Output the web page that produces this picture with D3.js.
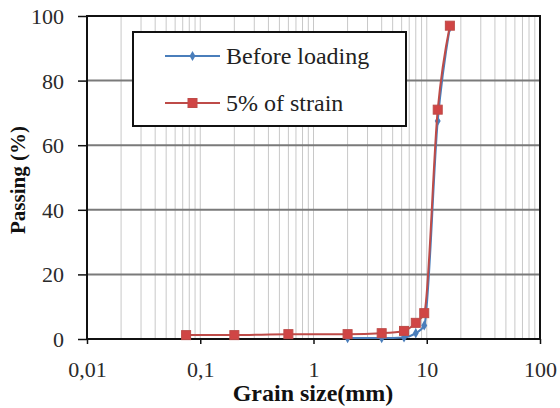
<!DOCTYPE html>
<html>
<head>
<meta charset="utf-8">
<script src="https://cdn.jsdelivr.net/npm/d3@7"></script>
<style>
body { margin: 0; background: #fff; }
</style>
</head>
<body>
<svg id="chart" width="560" height="408"></svg>
<script>
// sieve sizes (mm) and passing (%)
var sizesBefore = [2, 4, 6.3, 8, 9.5, 12.5, 16];
var passBefore = [0.3, 0.3, 0.5, 1.8, 4.2, 67.5, 96.5];
var sizesStrain = [0.075, 0.2, 0.6, 2, 4, 6.3, 8, 9.5, 12.5, 16];
var passStrain = [1.2, 1.2, 1.5, 1.5, 1.8, 2.5, 5, 8, 71, 97];
var xTicks = [0.01, 0.1, 1, 10, 100];
var xTickLabels = ["0,01", "0,1", "1", "10", "100"];
var yTicks = [0, 20, 40, 60, 80, 100];
var seriesNames = ["Before loading", "5% of strain"];

var serif = "'Liberation Serif'";
var svg = d3.select("#chart");
var plotL = 87, plotR = 540, plotT = 16, plotB = 339;

var x = d3.scaleLog().domain([0.01, 100]).range([plotL, plotR]);
var y = d3.scaleLinear().domain([0, 100]).range([plotB, plotT]);

// minor vertical grid
var minor = [];
for (var d = 0.01; d < 99; d *= 10) {
	for (var k = 1; k <= 9; k++) minor.push(d * k);
}
svg.append("g").selectAll("line").data(minor).enter().append("line")
	.attr("x1", function (v) { return x(v); }).attr("x2", function (v) { return x(v); })
	.attr("y1", plotT).attr("y2", plotB)
	.attr("stroke", "#c8c8c8").attr("stroke-width", 1);

// horizontal grid
svg.append("g").selectAll("line").data(yTicks.slice(1, 5)).enter().append("line")
	.attr("x1", plotL).attr("x2", plotR)
	.attr("y1", function (v) { return y(v); }).attr("y2", function (v) { return y(v); })
	.attr("stroke", "#7a7a7a").attr("stroke-width", 2);

// frame
svg.append("rect").attr("x", plotL).attr("y", plotT)
	.attr("width", plotR - plotL).attr("height", plotB - plotT)
	.attr("fill", "none").attr("stroke", "#111").attr("stroke-width", 2);

// axes
var yAxis = d3.axisLeft(y).tickValues(yTicks).tickSize(9).tickPadding(14);
var gy = svg.append("g").attr("transform", "translate(" + plotL + ",0)").call(yAxis);
gy.select(".domain").remove();
gy.attr("font-family", serif);
gy.selectAll("line").attr("stroke", "#111").attr("stroke-width", 1.5);
gy.selectAll("text").attr("font-family", serif).attr("font-size", 22)
	.attr("fill", "#2a2a2a").attr("dy", "0.34em");

var xAxis = d3.axisBottom(x).tickValues(xTicks)
	.tickFormat(function (v, i) { return xTickLabels[i]; }).tickSize(5);
var gx = svg.append("g").attr("transform", "translate(0," + plotB + ")").call(xAxis);
gx.select(".domain").remove();
gx.attr("font-family", serif);
gx.selectAll("line").attr("stroke", "#111").attr("stroke-width", 1.5);
gx.selectAll("text").attr("font-family", serif).attr("font-size", 22).attr("fill", "#2a2a2a")
	.attr("y", 38).attr("dy", null);

// axis titles
svg.append("text").attr("x", 313).attr("y", 401).attr("text-anchor", "middle")
	.attr("font-family", serif).attr("font-size", 24).attr("font-weight", "bold")
	.attr("fill", "#111").text("Grain size(mm)");
svg.append("text").attr("transform", "translate(25,180) rotate(-90)")
	.attr("text-anchor", "middle").attr("font-family", serif).attr("font-size", 21)
	.attr("font-weight", "bold").attr("fill", "#111").text("Passing (%)");

var line = d3.line()
	.x(function (d) { return x(d[0]); })
	.y(function (d) { return y(d[1]); })
	.curve(d3.curveMonotoneX);

var blueData = sizesBefore.map(function (s, i) { return [s, passBefore[i]]; });
var redData = sizesStrain.map(function (s, i) { return [s, passStrain[i]]; });
var blue = "#4a7ebb", red = "#be4b48";

svg.append("path").datum(blueData).attr("d", line)
	.attr("fill", "none").attr("stroke", blue).attr("stroke-width", 2);
svg.append("g").selectAll("path").data(blueData).enter().append("path")
	.attr("d", d3.symbol().type(d3.symbolDiamond).size(30))
	.attr("transform", function (d) { return "translate(" + x(d[0]) + "," + y(d[1]) + ")"; })
	.attr("fill", blue);

svg.append("path").datum(redData).attr("d", line)
	.attr("fill", "none").attr("stroke", red).attr("stroke-width", 2);
svg.append("g").selectAll("rect").data(redData).enter().append("rect")
	.attr("x", function (d) { return x(d[0]) - 4.5; })
	.attr("y", function (d) { return y(d[1]) - 4.5; })
	.attr("width", 9).attr("height", 9)
	.attr("fill", "#d04545").attr("stroke", red);

// legend
var lg = svg.append("g");
lg.append("rect").attr("x", 133).attr("y", 32).attr("width", 273).attr("height", 94)
	.attr("fill", "#fff").attr("stroke", "#111").attr("stroke-width", 2);
var colors = [blue, red];
seriesNames.forEach(function (name, i) {
	var ly = 56 + i * 47;
	lg.append("line").attr("x1", 165).attr("x2", 220).attr("y1", ly).attr("y2", ly)
		.attr("stroke", colors[i]).attr("stroke-width", 2);
	if (i === 0) {
		lg.append("path").attr("d", d3.symbol().type(d3.symbolDiamond).size(30))
			.attr("transform", "translate(192.5," + ly + ")").attr("fill", blue);
	} else {
		lg.append("rect").attr("x", 188).attr("y", ly - 4.5).attr("width", 9).attr("height", 9)
			.attr("fill", "#d04545").attr("stroke", red);
	}
	lg.append("text").attr("x", 226).attr("y", ly + 8).attr("font-family", serif)
		.attr("font-size", 24).attr("fill", "#222").text(name);
});
</script>
</body>
</html>
